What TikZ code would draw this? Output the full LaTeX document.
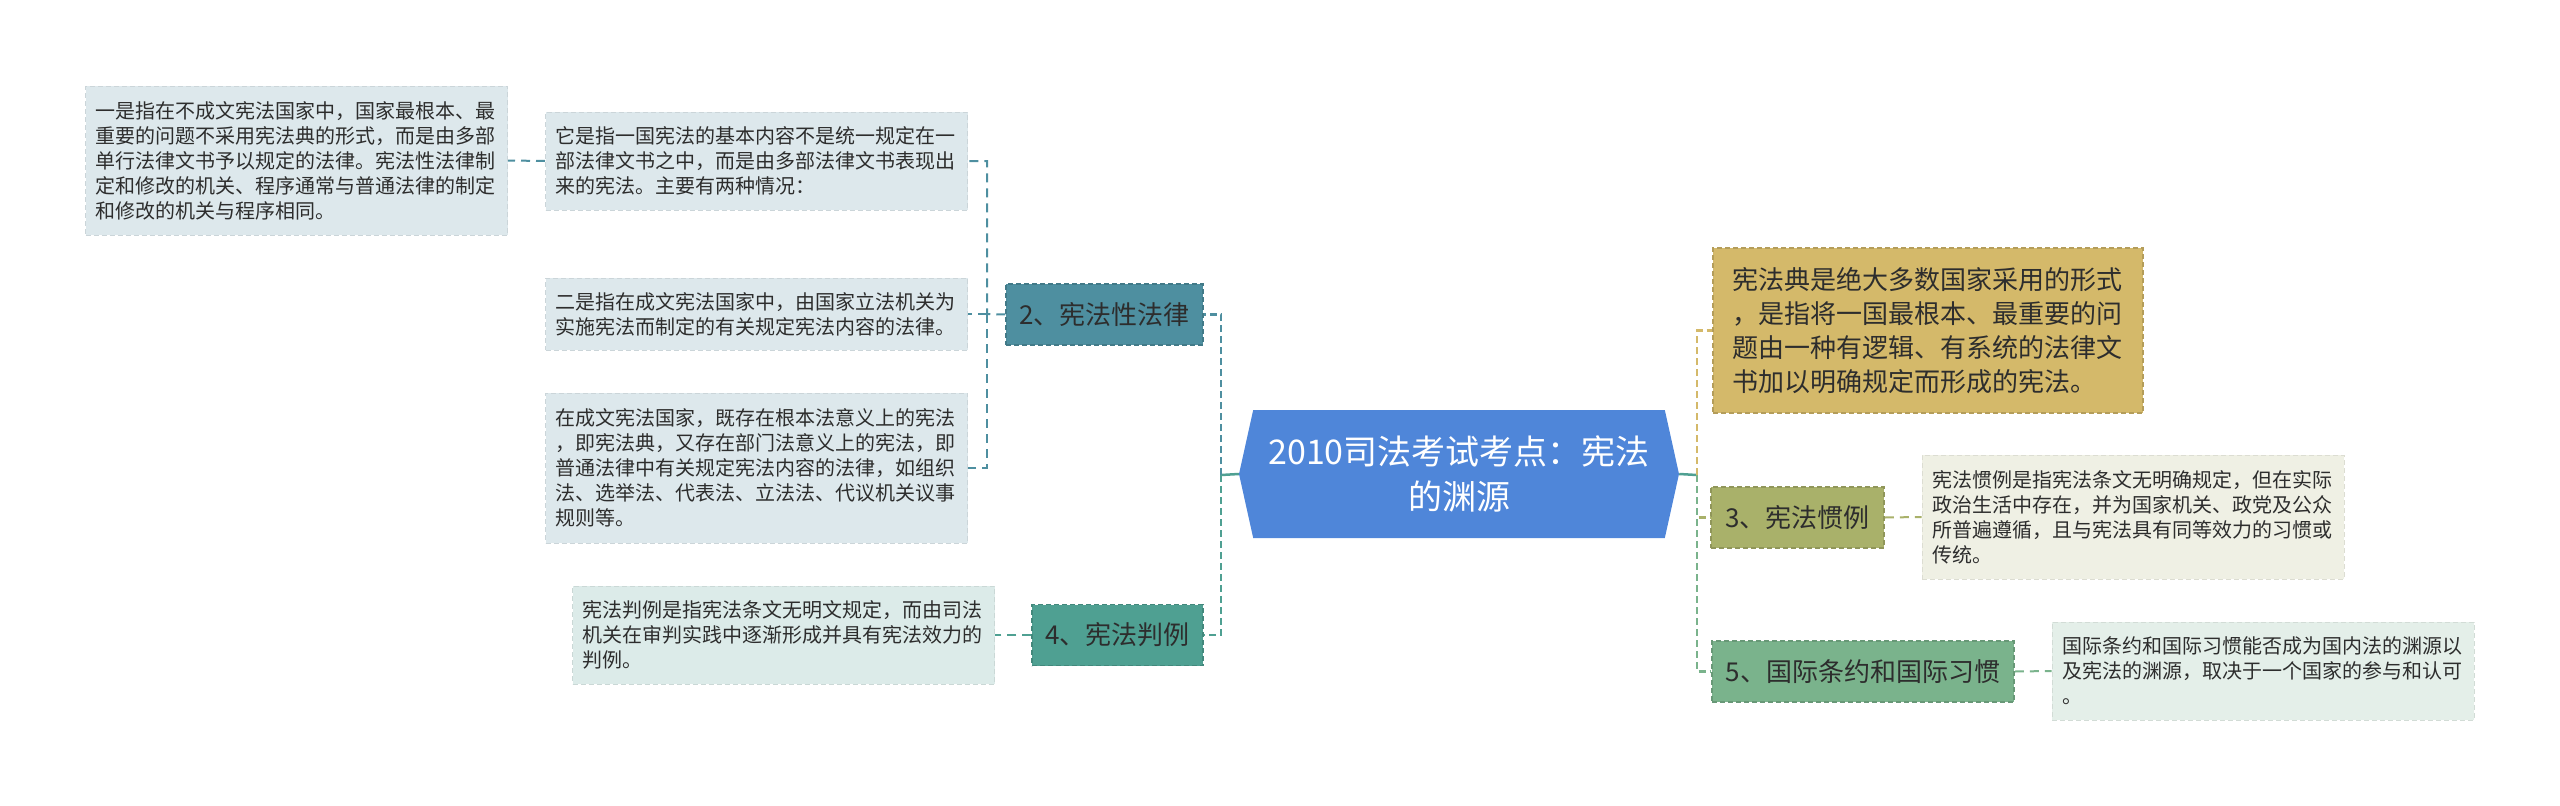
\documentclass[tikz,border=0pt]{standalone}
\usepackage{fontspec}
\setmainfont{Noto Sans CJK SC}
\usetikzlibrary{shapes.symbols}
\definecolor{birupusat}{RGB}{79,134,217}
\definecolor{birutopik}{RGB}{78,143,160}
\definecolor{hijautopik}{RGB}{79,160,146}
\definecolor{emastopik}{RGB}{212,185,106}
\definecolor{zaituntopik}{RGB}{169,177,106}
\definecolor{dauntopik}{RGB}{122,179,140}
\definecolor{birucatat}{RGB}{221,232,236}
\definecolor{hijaucatat}{RGB}{220,235,233}
\definecolor{krimcatat}{RGB}{239,240,228}
\definecolor{mintcatat}{RGB}{228,239,233}
\definecolor{teks}{RGB}{45,45,45}

\begin{document}
\begin{tikzpicture}[x=1pt, y=-1pt, font=\fontsize{20}{25}\selectfont,
        note/.style={rectangle, fill=#1, draw=#1!92!black, dash pattern=on 5pt off 3pt,
                     line width=1pt, text width=402pt, inner xsep=10pt, inner ysep=0pt,
                     align=left, text=teks},
        topic/.style={rectangle, fill=#1, draw=#1!85!black, dash pattern=on 5pt off 3pt,
                      line width=1.5pt, inner sep=0pt, minimum height=61pt,
                      font=\fontsize{26}{34}\selectfont, text=teks},
        link/.style={draw=#1, line width=2.5pt, dash pattern=on 7pt off 4pt},
        twig/.style={draw=#1, line width=2pt, dash pattern=on 9pt off 6pt},
        stem/.style={draw=#1, line width=2.5pt}
    ]
        \useasboundingbox (0,0) rectangle (2560,806);

        % pusat
        \node[signal, signal to=west and east, signal pointer angle=155, fill=birupusat,
              minimum width=440pt, minimum height=128pt, inner sep=0pt, text=white, align=center,
              font=\fontsize{34}{45}\selectfont] (root) at (1459,474)
              {2010司法考试考点：宪法\\的渊源};

        % kiri
        \node[topic=birutopik, minimum width=197pt] (n2) at (1104.5,314.5) {2、宪法性法律};
        \node[topic=hijautopik, minimum width=171pt] (n4) at (1117.5,635) {4、宪法判例};

        \node[note=birucatat, minimum height=98pt] (n2a) at (756.5,161)
            {它是指一国宪法的基本内容不是统一规定在一\\部法律文书之中，而是由多部法律文书表现出\\来的宪法。主要有两种情况：};
        \node[note=birucatat, minimum height=149pt] (n2aa) at (296.5,160.5)
            {一是指在不成文宪法国家中，国家最根本、最\\重要的问题不采用宪法典的形式，而是由多部\\单行法律文书予以规定的法律。宪法性法律制\\定和修改的机关、程序通常与普通法律的制定\\和修改的机关与程序相同。};
        \node[note=birucatat, minimum height=72pt] (n2b) at (756.5,314)
            {二是指在成文宪法国家中，由国家立法机关为\\实施宪法而制定的有关规定宪法内容的法律。};
        \node[note=birucatat, minimum height=150pt] (n2c) at (756.5,468)
            {在成文宪法国家，既存在根本法意义上的宪法\\，即宪法典，又存在部门法意义上的宪法，即\\普通法律中有关规定宪法内容的法律，如组织\\法、选举法、代表法、立法法、代议机关议事\\规则等。};
        \node[note=hijaucatat, minimum height=98pt] (n4a) at (783.5,635)
            {宪法判例是指宪法条文无明文规定，而由司法\\机关在审判实践中逐渐形成并具有宪法效力的\\判例。};

        % kanan
        \node[topic=emastopik, minimum width=430pt, minimum height=165pt, align=left,
              text width=392pt] (n1) at (1928,330.5)
            {宪法典是绝大多数国家采用的形式\\，是指将一国最根本、最重要的问\\题由一种有逻辑、有系统的法律文\\书加以明确规定而形成的宪法。};
        \node[topic=zaituntopik, minimum width=173pt] (n3) at (1797.5,517.5) {3、宪法惯例};
        \node[topic=dauntopik, minimum width=302pt] (n5) at (1863,671.5) {5、国际条约和国际习惯};

        \node[note=krimcatat, minimum height=124pt] (n3a) at (2133,517)
            {宪法惯例是指宪法条文无明确规定，但在实际\\政治生活中存在，并为国家机关、政党及公众\\所普遍遵循，且与宪法具有同等效力的习惯或\\传统。};
        \node[note=mintcatat, minimum height=98pt] (n5a) at (2263,671)
            {国际条约和国际习惯能否成为国内法的渊源以\\及宪法的渊源，取决于一个国家的参与和认可\\。};

        % garis
        \coordinate (lj) at (1221,475);
        \coordinate (rj) at (1697,475);
        \coordinate (j2) at (987,314);

        \draw[stem=hijautopik] (root.west) -- (lj);
        \draw[link=birutopik] (lj) |- (n2.east);
        \draw[link=hijautopik] (lj) |- (n4.east);

        \draw[stem=hijautopik] (root.east) -- (rj);
        \draw[link=emastopik] (rj) |- (n1.west);
        \draw[link=zaituntopik] (rj) |- (n3.west);
        \draw[link=dauntopik] (rj) |- (n5.west);

        \draw[twig=birutopik] (n2.west) -- (j2) |- (n2a.east);
        \draw[twig=birutopik] (j2) -- (n2b.east);
        \draw[twig=birutopik] (j2) |- (n2c.east);
        \draw[twig=birutopik] (n2a.west) -- (n2aa.east);
        \draw[twig=hijautopik] (n4.west) -- (n4a.east);
        \draw[twig=zaituntopik] (n3.east) -- (n3a.west);
        \draw[twig=dauntopik] (n5.east) -- (n5a.west);
    \end{tikzpicture}
\end{document}
